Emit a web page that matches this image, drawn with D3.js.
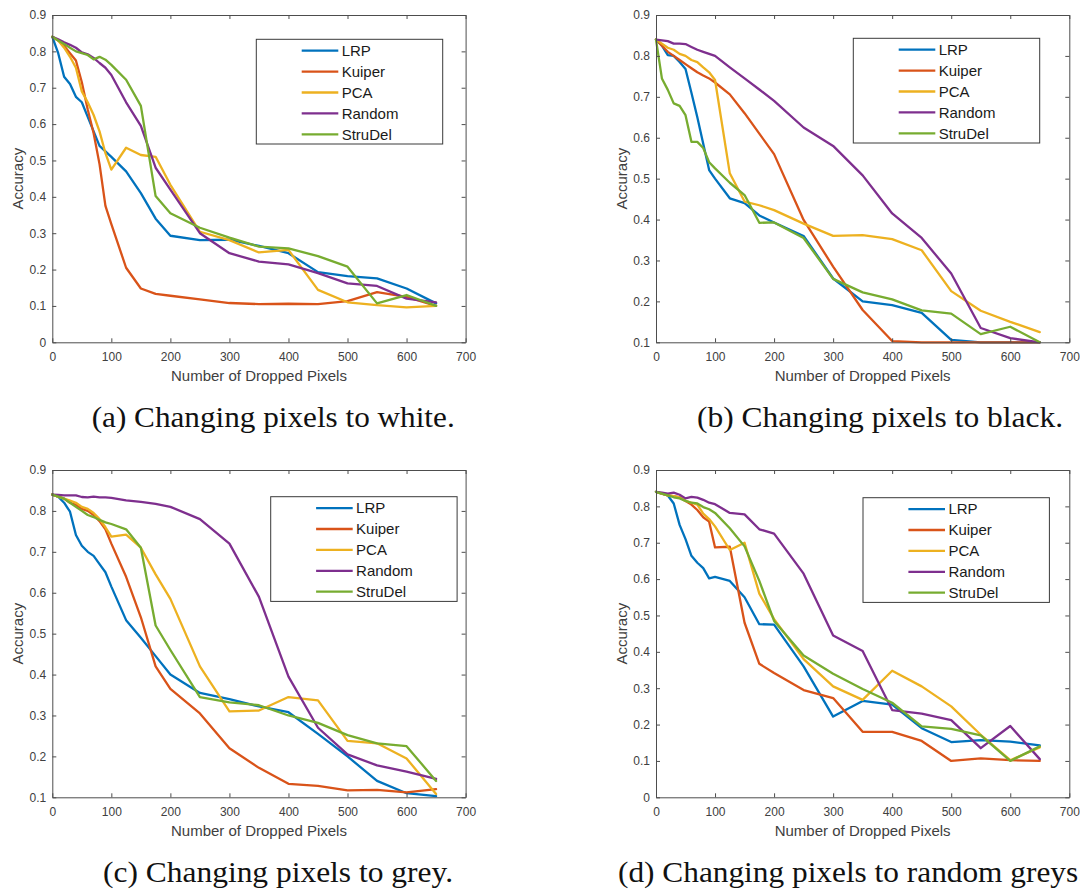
<!DOCTYPE html>
<html>
<head>
<meta charset="utf-8">
<script src="https://cdn.jsdelivr.net/npm/d3@7"></script>
<style>
  html, body { margin: 0; padding: 0; background: #fff; }
  svg { display: block; }
</style>
</head>
<body>
<svg id="fig" width="1080" height="889"></svg>
<script>
// Number of dropped pixels at which accuracy was measured
const dropped = [0, 10, 20, 30, 40, 50, 60, 70, 80, 90, 100, 125, 150, 175, 200,
                 250, 300, 350, 400, 450, 500, 550, 600, 650];

const methods = ["LRP", "Kuiper", "PCA", "Random", "StruDel"];

// Accuracy per method (order: LRP, Kuiper, PCA, Random, StruDel)
const accWhite = [
  [0.84, 0.795, 0.73, 0.71, 0.675, 0.66, 0.62, 0.58, 0.54, 0.525, 0.51, 0.47, 0.41, 0.34, 0.293, 0.281, 0.282, 0.265, 0.245, 0.193, 0.182, 0.176, 0.148, 0.107],
  [0.84, 0.83, 0.815, 0.795, 0.775, 0.715, 0.64, 0.575, 0.49, 0.375, 0.325, 0.205, 0.148, 0.133, 0.128, 0.118, 0.108, 0.105, 0.106, 0.105, 0.113, 0.138, 0.125, 0.10],
  [0.84, 0.83, 0.81, 0.785, 0.755, 0.69, 0.66, 0.625, 0.58, 0.52, 0.475, 0.535, 0.515, 0.51, 0.433, 0.304, 0.281, 0.247, 0.254, 0.144, 0.11, 0.102, 0.096, 0.10],
  [0.84, 0.833, 0.825, 0.818, 0.81, 0.797, 0.792, 0.782, 0.768, 0.755, 0.735, 0.66, 0.595, 0.48, 0.42, 0.30, 0.245, 0.222, 0.214, 0.19, 0.162, 0.155, 0.12, 0.11],
  [0.84, 0.83, 0.82, 0.81, 0.80, 0.795, 0.79, 0.778, 0.785, 0.777, 0.763, 0.722, 0.65, 0.402, 0.355, 0.315, 0.288, 0.263, 0.258, 0.237, 0.208, 0.107, 0.13, 0.10]
];

const accBlack = [
  [0.84, 0.825, 0.802, 0.80, 0.785, 0.768, 0.71, 0.65, 0.585, 0.521, 0.50, 0.452, 0.44, 0.41, 0.393, 0.36, 0.256, 0.2, 0.191, 0.172, 0.106, 0.10, 0.10, 0.10],
  [0.84, 0.825, 0.81, 0.80, 0.79, 0.78, 0.77, 0.76, 0.752, 0.745, 0.735, 0.706, 0.66, 0.61, 0.56, 0.399, 0.285, 0.179, 0.103, 0.10, 0.10, 0.10, 0.10, 0.10],
  [0.84, 0.83, 0.82, 0.815, 0.805, 0.80, 0.79, 0.785, 0.772, 0.76, 0.741, 0.513, 0.444, 0.435, 0.423, 0.39, 0.36, 0.362, 0.352, 0.325, 0.225, 0.177, 0.15, 0.125],
  [0.84, 0.838, 0.836, 0.83, 0.83, 0.829, 0.822, 0.815, 0.81, 0.805, 0.80, 0.772, 0.745, 0.718, 0.69, 0.625, 0.58, 0.508, 0.415, 0.355, 0.268, 0.135, 0.11, 0.10],
  [0.84, 0.745, 0.717, 0.684, 0.678, 0.655, 0.59, 0.59, 0.575, 0.54, 0.525, 0.49, 0.46, 0.392, 0.393, 0.355, 0.255, 0.222, 0.205, 0.178, 0.17, 0.12, 0.138, 0.10]
];

const accGrey = [
  [0.84, 0.835, 0.82, 0.798, 0.741, 0.715, 0.70, 0.69, 0.67, 0.65, 0.615, 0.533, 0.49, 0.445, 0.40, 0.355, 0.34, 0.322, 0.308, 0.255, 0.20, 0.14, 0.11, 0.103],
  [0.84, 0.835, 0.83, 0.82, 0.815, 0.805, 0.80, 0.79, 0.775, 0.755, 0.72, 0.639, 0.54, 0.42, 0.365, 0.305, 0.22, 0.172, 0.133, 0.128, 0.117, 0.118, 0.112, 0.12],
  [0.84, 0.835, 0.83, 0.825, 0.82, 0.81, 0.805, 0.795, 0.78, 0.76, 0.737, 0.742, 0.71, 0.645, 0.585, 0.42, 0.31, 0.312, 0.345, 0.337, 0.238, 0.232, 0.195, 0.108],
  [0.84, 0.839, 0.838, 0.838, 0.838, 0.834, 0.833, 0.835, 0.833, 0.833, 0.832, 0.826, 0.822, 0.817, 0.81, 0.78, 0.72, 0.59, 0.395, 0.27, 0.205, 0.178, 0.163, 0.145],
  [0.84, 0.835, 0.83, 0.82, 0.81, 0.80, 0.79, 0.785, 0.778, 0.772, 0.768, 0.755, 0.71, 0.52, 0.46, 0.345, 0.332, 0.325, 0.30, 0.282, 0.252, 0.232, 0.225, 0.14]
];

const accRandomGrey = [
  [0.84, 0.835, 0.83, 0.808, 0.749, 0.71, 0.664, 0.645, 0.63, 0.602, 0.606, 0.595, 0.55, 0.476, 0.475, 0.36, 0.222, 0.265, 0.255, 0.19, 0.152, 0.157, 0.153, 0.143],
  [0.84, 0.835, 0.83, 0.828, 0.825, 0.815, 0.805, 0.79, 0.77, 0.758, 0.687, 0.689, 0.48, 0.367, 0.342, 0.295, 0.273, 0.18, 0.18, 0.155, 0.10, 0.107, 0.102, 0.10],
  [0.84, 0.835, 0.83, 0.828, 0.825, 0.815, 0.81, 0.805, 0.78, 0.765, 0.745, 0.68, 0.70, 0.56, 0.49, 0.38, 0.305, 0.268, 0.348, 0.305, 0.25, 0.172, 0.102, 0.137],
  [0.84, 0.838, 0.835, 0.838, 0.832, 0.822, 0.826, 0.824, 0.818, 0.81, 0.806, 0.782, 0.778, 0.737, 0.725, 0.615, 0.445, 0.402, 0.24, 0.23, 0.212, 0.135, 0.196, 0.105],
  [0.84, 0.835, 0.83, 0.825, 0.822, 0.815, 0.81, 0.808, 0.798, 0.792, 0.782, 0.74, 0.69, 0.595, 0.485, 0.39, 0.34, 0.298, 0.26, 0.195, 0.188, 0.17, 0.10, 0.14]
];

const xTicks = [0, 100, 200, 300, 400, 500, 600, 700];
const yTicksFromZero = [0, 0.1, 0.2, 0.3, 0.4, 0.5, 0.6, 0.7, 0.8, 0.9];
const yTicksFromTenth = [0.1, 0.2, 0.3, 0.4, 0.5, 0.6, 0.7, 0.8, 0.9];

const captions = [
  "(a) Changing pixels to white.",
  "(b) Changing pixels to black.",
  "(c) Changing pixels to grey.",
  "(d) Changing pixels to random greys."
];

const xLabel = "Number of Dropped Pixels";
const yLabel = "Accuracy";

// ---- styling & layout ----
const lineColors = ["#0072BD", "#D95319", "#EDB120", "#7E2F8E", "#77AC30"];
const axisColor = "#4d4d4d";
const tickTextColor = "#404040";
const sansFont = "'Liberation Sans', Arial, Helvetica, sans-serif";
const serifFont = "'Liberation Serif', 'Times New Roman', serif";

const plotW = 413.3, plotH = 327.3;

const panels = [
  { acc: accWhite,      yTicks: yTicksFromZero,  left: 52.3, top: 15,  leg: [204.0, 24.3], cap: [91.7, 427, 363] },
  { acc: accBlack,      yTicks: yTicksFromTenth, left: 656,  top: 15,  leg: [197.3, 23.3], cap: [697, 427, 366] },
  { acc: accGrey,       yTicks: yTicksFromTenth, left: 52.3, top: 470, leg: [218.4, 26.7], cap: [103, 882, 350] },
  { acc: accRandomGrey, yTicks: yTicksFromZero,  left: 656,  top: 470, leg: [207.0, 27.7], cap: [618, 882, 468] }
];

const svg = d3.select("#fig");
svg.append("rect").attr("width", 1080).attr("height", 889).attr("fill", "#fff");

function styleAxis(sel, showText) {
  sel.select(".domain").attr("stroke", axisColor).attr("stroke-width", 1);
  sel.selectAll(".tick line").attr("stroke", axisColor).attr("stroke-width", 1);
  sel.selectAll(".tick text")
    .attr("fill", tickTextColor)
    .style("font-family", sansFont)
    .style("font-size", "12px");
  if (!showText) sel.selectAll(".tick text").remove();
}

panels.forEach((p, pi) => {
  const g = svg.append("g").attr("transform", `translate(${p.left},${p.top})`);
  const yMin = p.yTicks[0];
  const x = d3.scaleLinear().domain([0, 700]).range([0, plotW]);
  const y = d3.scaleLinear().domain([yMin, 0.9]).range([plotH, 0]);

  // plot background
  g.append("rect").attr("width", plotW).attr("height", plotH).attr("fill", "#fff");

  // series lines
  const line = d3.line()
    .x((d, i) => x(dropped[i]))
    .y(d => y(d));

  p.acc.forEach((vals, mi) => {
    g.append("path")
      .datum(vals)
      .attr("d", line)
      .attr("fill", "none")
      .attr("stroke", lineColors[mi])
      .attr("stroke-width", 2.3)
      .attr("stroke-linejoin", "round")
      .attr("stroke-linecap", "round");
  });

  // axes box with inward ticks on all four sides
  const fmtY = d => d === 0 ? "0" : d3.format(".1f")(d);
  g.append("g").attr("transform", `translate(0,${plotH})`)
    .call(d3.axisBottom(x).tickValues(xTicks).tickSizeInner(-4).tickSizeOuter(0).tickPadding(10.5).tickFormat(d3.format("d")))
    .call(s => styleAxis(s, true));
  g.append("g")
    .call(d3.axisTop(x).tickValues(xTicks).tickSizeInner(-4).tickSizeOuter(0))
    .call(s => styleAxis(s, false));
  g.append("g")
    .call(d3.axisLeft(y).tickValues(p.yTicks).tickSizeInner(-4).tickSizeOuter(0).tickPadding(6).tickFormat(fmtY))
    .call(s => styleAxis(s, true));
  g.append("g").attr("transform", `translate(${plotW},0)`)
    .call(d3.axisRight(y).tickValues(p.yTicks).tickSizeInner(-4).tickSizeOuter(0))
    .call(s => styleAxis(s, false));

  // axis titles
  g.append("text")
    .attr("x", plotW / 2).attr("y", plotH + 38.7)
    .attr("text-anchor", "middle")
    .attr("fill", tickTextColor)
    .style("font-family", sansFont).style("font-size", "15px")
    .text(xLabel);
  g.append("text")
    .attr("transform", `translate(-29,${plotH / 2}) rotate(-90)`)
    .attr("text-anchor", "middle")
    .attr("fill", tickTextColor)
    .style("font-family", sansFont).style("font-size", "15px")
    .text(yLabel);

  // legend
  const lg = g.append("g").attr("transform", `translate(${p.leg[0]},${p.leg[1]})`);
  lg.append("rect")
    .attr("width", 186.4).attr("height", 104.7)
    .attr("fill", "#fff").attr("stroke", "#3a3a3a").attr("stroke-width", 1);
  methods.forEach((m, mi) => {
    const cy = 11.4 + mi * 20.9;
    lg.append("line")
      .attr("x1", 45.4).attr("x2", 82).attr("y1", cy).attr("y2", cy)
      .attr("stroke", lineColors[mi]).attr("stroke-width", 2.3);
    lg.append("text")
      .attr("x", 85.4).attr("y", cy).attr("dy", "0.36em")
      .attr("fill", "#1a1a1a")
      .style("font-family", sansFont).style("font-size", "15px")
      .text(m);
  });

  // sub-figure caption
  svg.append("text")
    .attr("x", p.cap[0]).attr("y", p.cap[1])
    .attr("textLength", p.cap[2]).attr("lengthAdjust", "spacingAndGlyphs")
    .attr("fill", "#111")
    .style("font-family", serifFont).style("font-size", "28.5px")
    .text(captions[pi]);
});
</script>
</body>
</html>
